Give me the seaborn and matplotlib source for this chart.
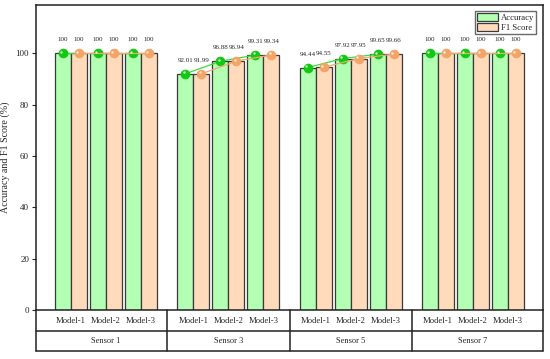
import numpy as np
import pandas as pd
import matplotlib
matplotlib.use("Agg")
import matplotlib.pyplot as plt
import seaborn as sns
from matplotlib.patches import Patch

sensors = ["Sensor 1", "Sensor 3", "Sensor 5", "Sensor 7"]
models = ["Model-1", "Model-2", "Model-3"]
metrics = ["Accuracy", "F1 Score"]
accuracy = [100, 100, 100, 92.01, 96.88, 99.31, 94.44, 97.92, 99.65, 100, 100, 100]
f1_score = [100, 100, 100, 91.99, 96.94, 99.34, 94.55, 97.95, 99.66, 100, 100, 100]

bar_colors = {"Accuracy": "#b3ffb3", "F1 Score": "#ffdabb"}
dot_colors = {"Accuracy": "#12c812", "F1 Score": "#f3a467"}
line_colors = {"Accuracy": "#3ddc3d", "F1 Score": "#f0a870"}

sns.set_style("white")
plt.rcParams["font.family"] = ["Liberation Serif", "DejaVu Serif"]

# x position of each sensor/model pair: groups separated by a half-slot gap
pos = [g * 3.5 + m for g in range(len(sensors)) for m in range(len(models))]
group = [s for s in sensors for _ in models]

df = pd.DataFrame({
    "pos": pos * 2,
    "group": group * 2,
    "metric": ["Accuracy"] * len(pos) + ["F1 Score"] * len(pos),
    "value": accuracy + f1_score,
})

fig = plt.figure(figsize=(5.5, 3.59), dpi=100)
ax = fig.add_axes([36 / 550, 49 / 359, 507 / 550, 305 / 359])

bw = 0.457
sns.barplot(data=df, x="pos", y="value", hue="metric", hue_order=metrics,
            palette=bar_colors, saturation=1, native_scale=True, width=2 * bw, gap=0,
            edgecolor="#3a3a3a", linewidth=0.9, legend=False, ax=ax, errorbar=None)

off = {"Accuracy": -bw / 2, "F1 Score": bw / 2}
for met, vals in [("Accuracy", accuracy), ("F1 Score", f1_score)]:
    xs = np.array(pos) + off[met]
    for g in sensors:
        idx = [i for i, s in enumerate(group) if s == g]
        sns.lineplot(x=xs[idx], y=np.array(vals)[idx], sort=False, ax=ax,
                     color=line_colors[met], linewidth=0.9, marker="o",
                     markersize=6.2, markerfacecolor=dot_colors[met],
                     markeredgecolor=dot_colors[met], zorder=4)
    # highlight on the spheres
    ax.scatter(xs - 0.05, np.array(vals) + 0.6, s=3, color="white", alpha=0.8,
               zorder=5, linewidths=0)
    for x, v in zip(xs, vals):
        ax.text(x, v + 4.2, f"{v:g}", ha="center", va="bottom", fontsize=5)

ax.set_xlim(-1, 13.5)
ax.set_ylim(0, 118.8)
ax.set_yticks(range(0, 101, 20))
ax.set_xticks([])
ax.set_xlabel("")
ax.set_ylabel("Accuracy and F1 Score (%)", fontsize=7.2, labelpad=4)
ax.tick_params(axis="y", labelsize=6.5, length=3, width=0.8, direction="out", left=True, pad=2)
for sp in ax.spines.values():
    sp.set_color("#222222")
    sp.set_linewidth(1.1)

# two-row table under the axis
tr = ax.get_xaxis_transform()
r1, r2 = -0.069, -0.135
for yy in (r1, r2):
    ax.plot([-1, 13.5], [yy, yy], color="#222222", lw=1.1, transform=tr, clip_on=False)
for xx in (-1, 2.75, 6.25, 9.75, 13.5):
    ax.plot([xx, xx], [0, r2], color="#222222", lw=1.1, transform=tr, clip_on=False)
for x, i in zip(pos, range(len(pos))):
    ax.text(x, r1 / 2, models[i % 3], transform=tr, ha="center", va="center", fontsize=6.2)
for g, s in enumerate(sensors):
    ax.text(g * 3.5 + 1, (r1 + r2) / 2, s, transform=tr, ha="center", va="center", fontsize=6)

handles = [Patch(facecolor=bar_colors[m], edgecolor="#3a3a3a", linewidth=0.9) for m in metrics]
leg = ax.legend(handles, metrics, loc="upper right", fontsize=6.2, frameon=True,
                fancybox=False, edgecolor="#444444", handlelength=2.5, handleheight=1.1,
                borderpad=0.2, labelspacing=0.1, handletextpad=0.3, borderaxespad=0,
                bbox_to_anchor=(0.986, 0.98))
leg.get_frame().set_linewidth(1.0)

fig.savefig("out.png", dpi=100)
